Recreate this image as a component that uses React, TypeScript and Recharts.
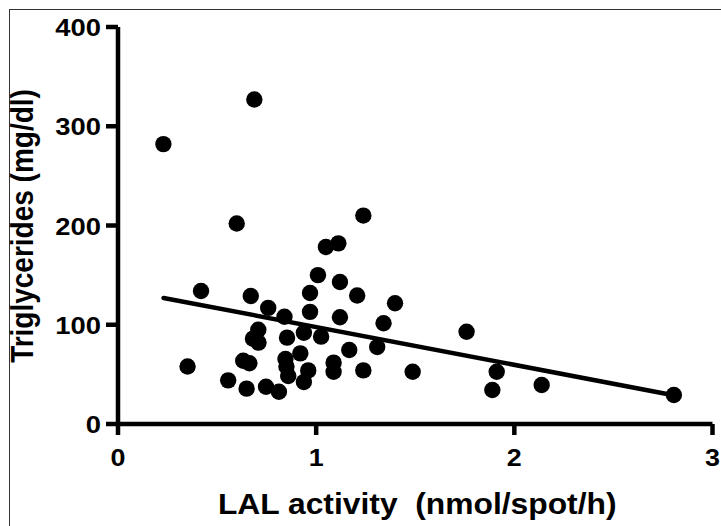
import React from 'react';
import { ScatterChart, Scatter, XAxis, YAxis, Label } from 'recharts';

// LAL activity (nmol/spot/h)
const lalActivity = [
  0.229, 0.688, 0.599, 1.238, 0.419, 0.351, 0.67, 0.758, 0.84, 0.708,
  0.681, 0.709, 0.853, 0.938, 1.025, 0.969, 0.969, 1.009, 1.12, 1.207,
  1.398, 1.12, 1.34, 1.308, 1.167, 0.92, 0.845, 0.85, 0.859, 0.96,
  0.938, 1.088, 1.088, 1.238, 1.487, 0.556, 0.649, 0.747, 0.812, 0.632,
  0.663, 1.049, 1.112, 1.759, 1.911, 1.889, 2.138, 2.805,
];
// Triglycerides (mg/dl)
const triglycerides = [
  282, 327, 202, 210, 134, 58, 129, 117, 108, 95,
  86, 82, 87, 92, 88, 113, 132, 150, 143, 129.5,
  121.6, 107.5, 101.5, 77.6, 74.6, 71.2, 65.5, 58, 48.4, 54,
  42.3, 61.8, 52.7, 54, 52.7, 44, 35.6, 37.6, 32.5, 63.8,
  61.2, 178.3, 182, 93, 52.7, 34.3, 39.3, 29.2,
];
// regression line end points
const fitX = [0.23, 2.79];
const fitY = [127, 29.5];

const xTicks = [0, 1, 2, 3];
const yTicks = [0, 100, 200, 300, 400];

const points = lalActivity.map((x, i) => ({ x, y: triglycerides[i] }));
const fit = fitX.map((x, i) => ({ x, y: fitY[i] }));

const FONT = '"Liberation Sans", Arial, Helvetica, sans-serif';

const XTick = (props: any) => {
  const { x, y, payload } = props;
  return (
    <g transform={`translate(${x},${y})`}>
      <text
        x={0}
        y={0}
        dy={29}
        textAnchor="middle"
        transform="scale(1.12,1)"
        fontFamily={FONT}
        fontWeight="bold"
        fontSize={24}
        fill="#000"
      >
        {payload.value}
      </text>
    </g>
  );
};

const YTick = (props: any) => {
  const { x, y, payload } = props;
  return (
    <g transform={`translate(${x - 3},${y})`}>
      <text
        x={0}
        y={0}
        dy={9}
        textAnchor="end"
        transform="scale(1.14,1)"
        fontFamily={FONT}
        fontWeight="bold"
        fontSize={24}
        fill="#000"
      >
        {payload.value}
      </text>
    </g>
  );
};

const XTitle = (props: any) => {
  const vb = props.viewBox || { x: 0, y: 0, width: 0, height: 0 };
  const cx = vb.x + vb.width / 2 + 2;
  const by = vb.y + 90;
  return (
    <g transform={`translate(${cx},${by})`}>
      <text
        x={0}
        y={0}
        textAnchor="middle"
        transform="scale(1.06,1)"
        fontFamily={FONT}
        fontWeight="bold"
        fontSize={30}
        fill="#000"
        style={{ whiteSpace: 'pre' }}
        xmlSpace="preserve"
      >
        {'LAL activity  (nmol/spot/h)'}
      </text>
    </g>
  );
};

const YTitle = (props: any) => {
  const vb = props.viewBox || { x: 0, y: 0, width: 0, height: 0 };
  const bx = vb.x + 15;
  const cy = vb.y + vb.height / 2 + 0.5;
  return (
    <g transform={`translate(${bx},${cy}) rotate(-90) scale(1,1.1)`}>
      <text
        x={0}
        y={0}
        textAnchor="middle"
        fontFamily={FONT}
        fontWeight="bold"
        fontSize={28}
        fill="#000"
      >
        Triglycerides (mg/dl)
      </text>
    </g>
  );
};

const Dot = (props: any) => {
  const { cx, cy } = props;
  if (cx == null || cy == null) return <g />;
  return <circle cx={cx} cy={cy} r={8.2} fill="#000" />;
};

const NoDot = () => <g />;

export default function App() {
  return (
    <div
      style={{
        position: 'fixed',
        left: 0,
        top: 0,
        width: 721,
        height: 526,
        background: '#fff',
        overflow: 'hidden',
      }}
    >
      <div
        style={{
          position: 'absolute',
          left: 8.5,
          top: 8.5,
          right: -10,
          bottom: -10,
          borderTop: '1.5px solid #333',
          borderLeft: '1.5px solid #333',
        }}
      />
      <div style={{ position: 'absolute', left: 0, top: 0 }}>
        <ScatterChart
          width={721}
          height={526}
          margin={{ top: 27, right: 8.5, bottom: 42, left: 18 }}
        >
          <XAxis
            type="number"
            dataKey="x"
            domain={[0, 3]}
            ticks={xTicks}
            allowDataOverflow
            height={60}
            tickSize={11}
            tickMargin={2}
            axisLine={{ stroke: '#000', strokeWidth: 4.5 }}
            tickLine={{ stroke: '#000', strokeWidth: 4.5 }}
            tick={<XTick />}
          >
            <Label content={<XTitle />} />
          </XAxis>
          <YAxis
            type="number"
            dataKey="y"
            domain={[0, 400]}
            ticks={yTicks}
            allowDataOverflow
            width={100}
            tickSize={12}
            tickMargin={2}
            axisLine={{ stroke: '#000', strokeWidth: 4.5 }}
            tickLine={{ stroke: '#000', strokeWidth: 4.5 }}
            tick={<YTick />}
          >
            <Label content={<YTitle />} />
          </YAxis>
          <Scatter
            data={fit}
            line={{ stroke: '#000', strokeWidth: 4.5, strokeLinecap: 'round' } as any}
            lineType="joint"
            shape={<NoDot />}
            isAnimationActive={false}
          />
          <Scatter
            data={points}
            shape={<Dot />}
            fill="#000"
            isAnimationActive={false}
          />
        </ScatterChart>
      </div>
    </div>
  );
}
